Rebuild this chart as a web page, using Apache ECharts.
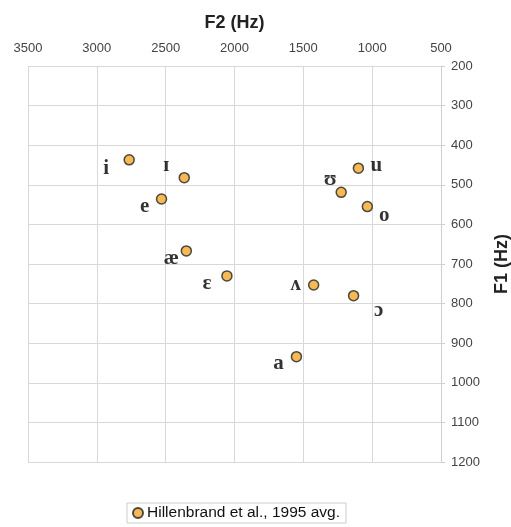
<!DOCTYPE html>
<html><head><meta charset="utf-8">
<script src="https://cdn.jsdelivr.net/npm/echarts@6/dist/echarts.min.js"></script>
<style>html,body{margin:0;padding:0;background:#fff}#c{width:511px;height:527px}</style>
</head><body><div id="c"></div>
<script>
const vowels = ['i','ɪ','e','æ','ɛ','u','ʊ','o','ʌ','ɔ','a'];
const f2 = [2765, 2365, 2530, 2350, 2055, 1100, 1225, 1035, 1425, 1135, 1550];
const f1 = [437, 482, 536, 667, 730, 458, 519, 555, 753, 780, 934];
const labelOffsets = [[-23,9],[-18,-12],[-17,8],[-15,8],[-20,8],[18,-3],[-11,-13],[17,9],[-18,0],[25,15],[-18,7]];
const xTicks = [500,1000,1500,2000,2500,3000,3500];
const yTicks = [200,300,400,500,600,700,800,900,1000,1100,1200];

const data = vowels.map((v,i)=>({
  value:[f2[i], f1[i]], name:v,
  label:{show:true, formatter:v, offset:labelOffsets[i], position:'inside'}
}));

const chart = echarts.init(document.getElementById('c'));
chart.setOption({
  animation:false,
  grid:{left:28, right:70, top:66, bottom:65, containLabel:false, outerBoundsMode:'none'},
  xAxis:{
    type:'value', position:'top', inverse:true,
    min:xTicks[0], max:xTicks[xTicks.length-1], interval:500,
    name:'F2 (Hz)', nameLocation:'middle', nameGap:43,
    nameTextStyle:{fontFamily:'Liberation Sans', fontWeight:'bold', fontSize:18, color:'#222', verticalAlign:'middle'},
    axisLine:{show:false}, axisTick:{show:false},
    axisLabel:{fontFamily:'Liberation Sans', fontSize:13, color:'#444', margin:11, formatter:v=>String(v)},
    splitLine:{show:true, lineStyle:{color:'#d8d8d8', width:1}}
  },
  yAxis:{
    type:'value', position:'right', inverse:true,
    min:yTicks[0], max:yTicks[yTicks.length-1], interval:100,
    name:'F1 (Hz)', nameLocation:'middle', nameGap:61, nameRotate:90,
    nameTextStyle:{fontFamily:'Liberation Sans', fontWeight:'bold', fontSize:18, color:'#222', verticalAlign:'middle'},
    axisLine:{show:true, lineStyle:{color:'#cfcfcf'}},
    axisTick:{show:true, length:4, lineStyle:{color:'#cfcfcf'}},
    axisLabel:{fontFamily:'Liberation Sans', fontSize:13, color:'#444', margin:10, formatter:v=>String(v)},
    splitLine:{show:true, lineStyle:{color:'#d8d8d8', width:1}}
  },
  legend:{
    top:503, left:127,
    data:['Hillenbrand et al., 1995 avg.'],
    itemWidth:10, itemHeight:10, itemGap:4,
    borderColor:'#cccccc', borderWidth:1, padding:[2,6,2,5],
    textStyle:{fontFamily:'Liberation Sans', fontSize:15.5, color:'#111', padding:[0,0,0,-1]}
  },
  series:[{
    type:'scatter', name:'Hillenbrand et al., 1995 avg.',
    symbol:'circle', symbolSize:10,
    itemStyle:{color:'#f2a82c', borderColor:'#222', borderWidth:1.5},
    label:{fontFamily:'Liberation Serif', fontWeight:'bold', fontSize:21, color:'#000'},
    data:data
  }]
});
</script></body></html>
